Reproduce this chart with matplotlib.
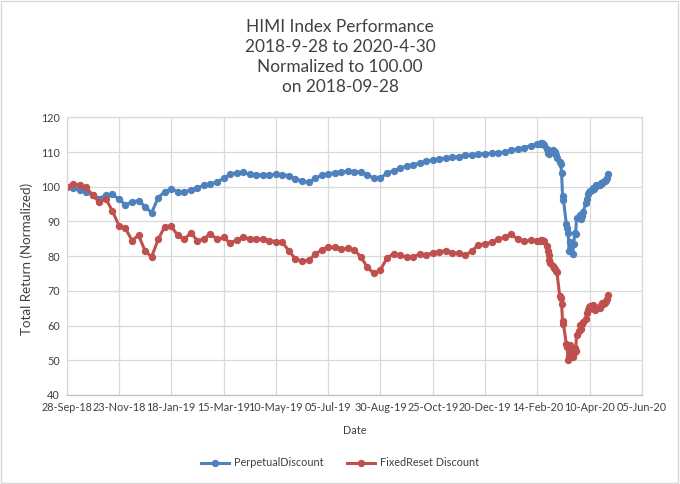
import numpy as np
import pandas as pd
import matplotlib
matplotlib.use('Agg')
from matplotlib import pyplot as plt
import matplotlib.dates as mdates
from matplotlib.patches import Rectangle

plt.rcParams['font.family'] = ['Lato', 'DejaVu Sans']

# weekly (Friday) closes, 2018-09-28 .. 2020-02-14
weekly_dates = pd.date_range('2018-09-28', '2020-02-14', freq='W-FRI')
perp_weekly = [100.0, 99.5, 99.0, 98.5, 97.5, 96.6, 97.6, 97.8, 96.4, 94.8,
               95.6, 96.0, 94.3, 92.5, 96.8, 98.6, 99.3, 98.6, 98.4, 99.2,
               99.6, 100.4, 100.9, 101.3, 102.4, 103.6, 104.0, 104.1, 103.6, 103.4,
               103.5, 103.3, 103.6, 103.5, 103.2, 102.3, 101.6, 101.3, 102.4, 103.3,
               103.7, 104.0, 104.2, 104.5, 104.3, 104.3, 103.5, 102.4, 102.5, 103.9,
               104.6, 105.3, 105.9, 106.4, 106.8, 107.4, 107.7, 108.0, 108.3, 108.5,
               108.7, 109.0, 109.2, 109.4, 109.5, 109.6, 109.7, 110.0, 110.5, 110.9,
               111.3, 111.8, 112.3]
fr_weekly = [100.0, 100.9, 100.4, 99.8, 97.5, 95.5, 96.5, 93.0, 88.8, 88.0,
             84.5, 86.0, 81.5, 79.8, 84.8, 88.5, 88.6, 86.0, 84.8, 86.8,
             84.4, 85.0, 86.5, 84.8, 85.4, 83.8, 84.6, 85.5, 85.0, 85.0,
             84.9, 84.5, 84.2, 84.0, 81.5, 79.2, 78.5, 78.8, 80.5, 81.8,
             82.7, 82.6, 82.0, 82.2, 81.8, 79.8, 76.8, 75.0, 76.0, 79.5,
             80.6, 80.2, 79.7, 79.8, 80.6, 80.3, 81.0, 81.3, 81.5, 81.0,
             80.8, 80.3, 81.5, 83.3, 83.5, 84.0, 84.8, 85.5, 86.4, 84.8,
             84.3, 84.6, 84.5]

# daily closes through the crash, 2020-02-17 .. 2020-04-30
daily_dates = pd.bdate_range('2020-02-17', '2020-04-30')
perp_daily = [112.4, 112.7, 112.6, 112.4, 112.0,
              110.8, 109.8, 110.0, 109.4, 110.3,
              110.7, 110.4, 110.0, 109.0, 108.2,
              107.2, 106.5, 103.9, 97.3, 96.2,
              89.4, 88.2, 86.6, 81.6, 84.0,
              80.5, 83.5, 86.6, 86.4, 90.9,
              91.2, 91.8, 90.6, 91.6, 92.8,
              95.2, 96.5, 98.0, 98.6, 98.8,
              99.0, 99.5, 99.4, 99.8, 100.4,
              100.6, 100.4, 101.0, 101.2, 101.4,
              101.6, 102.0, 102.6, 103.8]
fr_daily = [84.4, 84.6, 84.7, 84.5, 84.3,
            82.8, 81.5, 80.2, 78.9, 78.0,
            77.2, 76.5, 76.2, 75.8, 75.3,
            68.5, 67.8, 66.2, 61.2, 60.3,
            54.8, 53.8, 50.2, 51.2, 54.5,
            50.8, 52.0, 53.6, 52.8, 57.2,
            58.5, 60.2, 59.0, 60.5, 61.0,
            62.0, 63.5, 64.5, 65.3, 65.6,
            65.2, 65.8, 64.8, 64.4, 65.0,
            65.4, 65.0, 65.8, 66.4, 66.2,
            66.6, 67.1, 67.6, 68.9]

dates = list(weekly_dates) + list(daily_dates)
perp = perp_weekly + perp_daily
fixed_reset = fr_weekly + fr_daily

blue = '#4F81BD'
red = '#C0504D'
grid_c = '#D9D9D9'
text_c = '#404040'

fig = plt.figure(figsize=(6.8, 4.84), dpi=100)
ax = fig.add_axes([0.098, 0.184, 0.846, 0.5736])

ax.plot(dates, perp, '-o', color=blue, lw=2.2, ms=5.3, mew=0, label='PerpetualDiscount')
ax.plot(dates, fixed_reset, '-o', color=red, lw=2.2, ms=5.3, mew=0, label='FixedReset Discount')

x_start = pd.Timestamp('2018-09-28')
ticks = [x_start + pd.Timedelta(days=56 * i) for i in range(12)]
ax.set_xticks(ticks)
ax.xaxis.set_major_formatter(mdates.DateFormatter('%d-%b-%y'))
ax.set_xlim(ticks[0], ticks[-1])
ax.set_ylim(40, 120)
ax.set_yticks(np.arange(40, 121, 10))

ax.grid(True, color=grid_c, lw=0.9)
ax.set_axisbelow(True)
for s in ax.spines.values():
    s.set_color(grid_c)
    s.set_linewidth(0.9)
ax.spines['bottom'].set_color('#BFBFBF')
ax.tick_params(length=0, labelsize=7.8, colors=text_c, pad=5)

ax.set_xlabel('Date', fontsize=7.8, color=text_c, labelpad=9)
ax.set_ylabel('Total Return (Normalized)', fontsize=9.6, color=text_c)
ax.yaxis.set_label_coords(-0.058, 0.49)

fig.text(0.5, 1 - 57 / 484, 'HIMI Index Performance\n2018-9-28 to 2020-4-30\nNormalized to 100.00\non 2018-09-28',
         ha='center', va='center', fontsize=12.4, color=text_c, linespacing=1.33)

fig.legend(loc='center', bbox_to_anchor=(0.5, 1 - 463 / 484), ncol=2, frameon=False,
           fontsize=7.8, labelcolor=text_c, handlelength=2.6, columnspacing=2.2, handletextpad=0.4)

fig.patches.append(Rectangle((0.001, 0.003), 0.996, 0.995, transform=fig.transFigure,
                             fill=False, edgecolor='#D9D9D9', lw=1))

fig.savefig('out.png', dpi=100)
